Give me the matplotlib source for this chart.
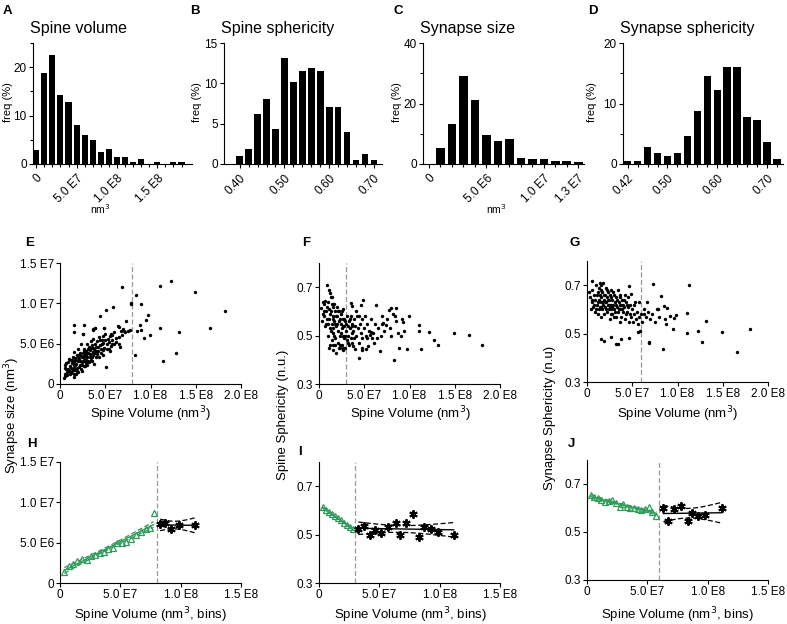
import numpy as np
import matplotlib
matplotlib.use('Agg')
import matplotlib.pyplot as plt

plt.rcParams['font.family'] = ['Liberation Sans', 'DejaVu Sans']
plt.rcParams['font.size'] = 8.5

W, H = 787, 624
fig = plt.figure(figsize=(W / 100, H / 100), dpi=100)

GREEN = '#2f9a5a'
TICK_FS = 8.5
LAB_FS = 9.5

# ---------------- data: histograms ----------------
hist_a = [2.8, 18.7, 22.6, 14.3, 12.9, 8.1, 5.9, 5.0, 2.4, 3.2, 1.4, 1.4, 0.5, 1.0, 0, 0.5, 0, 0.5, 0.5]
hist_b = [1.0, 1.8, 6.2, 8.0, 4.4, 13.2, 10.2, 11.5, 11.9, 11.5, 7.1, 7.1, 4.0, 0.5, 1.3, 0.5]
hist_c = [0, 5.2, 13.3, 29.2, 21.0, 9.6, 7.5, 8.3, 1.9, 1.5, 1.5, 1.0, 1.0, 0.5]
hist_d = [0.5, 0.5, 2.8, 1.8, 1.4, 1.8, 4.6, 8.7, 14.6, 12.3, 16.0, 16.0, 7.8, 7.3, 3.7, 0.9]

titles = ['Spine volume', 'Spine sphericity', 'Synapse size', 'Synapse sphericity']
a_xt, a_xl = [0, 5e7, 1e8, 1.5e8], ['0', '5.0 E7', '1.0 E8', '1.5 E8']
b_xt, b_xl = [0.40, 0.50, 0.60, 0.70], ['0.40', '0.50', '0.60', '0.70']
c_xt, c_xl = [0, 5e6, 1e7, 1.3e7], ['0', '5.0 E6', '1.0 E7', '1.3 E7']
d_xt, d_xl = [0.42, 0.50, 0.60, 0.70], ['0.42', '0.50', '0.60', '0.70']

# ---------------- data: scatter (x in 1e7 nm3) ----------------
e_pts = [(0.4,0.8),(0.5,1.3),(0.6,2.4),(0.7,1.9),(0.8,1.1),(0.9,2.7),(1.0,1.6),(1.1,2.2),(1.2,3.0),(1.2,1.4),
 (1.3,2.6),(1.4,1.9),(1.4,3.4),(1.5,2.3),(1.5,1.2),(1.6,2.9),(1.6,4.0),(1.7,1.7),(1.7,3.2),(1.8,2.5),(1.5,7.3),
 (1.9,3.6),(1.9,2.0),(2.0,2.8),(2.0,4.4),(2.0,1.5),(2.1,3.1),(2.2,2.4),(2.2,3.8),(2.3,1.9),(2.3,4.9),(2.4,3.3),
 (2.4,2.7),(2.5,6.2),(2.5,3.9),(2.6,2.2),(2.6,3.5),(2.7,4.4),(2.7,7.3),(2.8,2.9),(2.8,3.7),(2.9,4.1),(2.9,2.6),
 (3.0,3.4),(3.0,5.0),(3.1,3.9),(3.1,2.9),(3.2,4.6),(3.3,3.3),(3.3,4.2),(3.4,5.3),(3.4,3.0),(3.5,4.8),(3.6,6.8),
 (3.6,4.0),(3.7,3.6),(3.7,5.6),(3.8,4.4),(3.8,2.5),(3.9,7.0),(3.9,5.0),(4.0,4.6),(4.0,3.4),(4.1,5.3),(4.2,4.1),
 (4.3,5.8),(4.4,8.4),(4.4,4.8),(4.5,3.9),(4.6,5.5),(4.7,5.1),(4.8,4.2),(4.8,6.0),(4.9,6.9),(5.0,5.4),(5.1,2.1),
 (5.1,9.2),(5.2,5.0),(5.3,5.6),(5.4,4.4),(5.5,5.9),(5.6,6.2),(5.7,4.9),(5.8,5.4),(5.9,9.5),(6.0,6.4),(6.0,5.0),
 (6.2,5.7),(6.4,7.2),(6.5,4.9),(6.6,4.6),(6.7,6.6),(6.9,12.0),(7.0,6.8),(7.2,6.4),(7.3,7.8),(7.5,6.6),(7.7,6.7),
 (7.8,9.9),(7.9,10.1),(8.3,3.6),(8.4,11.0),(8.5,6.6),(8.8,7.3),(8.9,9.9),(9.0,6.7),(9.3,5.7),(9.5,7.9),(9.7,8.5),
 (9.9,6.1),(11.0,6.9),(11.1,12.2),(11.4,2.9),(12.3,12.8),(12.8,3.9),(13.2,6.4),(14.9,11.4),(16.6,6.9),(18.2,9.0),
 (0.5,2.0),(0.7,2.6),(0.9,1.8),(1.0,3.1),(1.1,1.2),(1.3,1.6),(1.3,3.0),(1.5,2.6),(1.6,2.0),(1.7,2.4),(1.8,3.0),
 (1.9,1.6),(2.0,3.3),(2.1,2.1),(2.2,2.9),(2.3,3.5),(2.4,2.3),(2.5,2.9),(2.6,4.1),(2.7,3.2),(2.8,2.2),(2.9,3.0),
 (3.0,3.9),(3.1,4.4),(3.2,2.7),(3.3,3.7),(3.5,3.3),(3.6,4.5),(3.7,4.0),(3.9,3.8),(4.0,4.1),(4.1,3.7),(4.2,4.6),
 (4.3,3.4),(4.5,4.4),(4.6,4.9),(4.7,3.6),(4.9,4.5),(5.0,6.2),(5.2,4.3),(5.4,5.2),(5.6,4.7),(5.8,6.1),(6.2,5.2),
 (6.5,5.8),(1.5,0.9),(1.8,1.3),(2.4,1.6),(3.0,2.3),(3.5,2.8),(1.2,2.0),(0.8,1.5),(0.6,1.0),(2.1,3.6),(2.9,3.6),
 (3.4,4.5),(4.4,5.4),(5.5,4.1),(6.8,6.1),(7.1,6.6),(1.5,6.4),(2.5,6.2),(3.6,6.7),(3.9,7.0),(4.9,6.9),(6.5,7.1)]

f_pts = [(0.9,0.71),(1.1,0.69),(1.2,0.678),(0.2,0.613),(0.4,0.64),(0.7,0.643),(1.4,0.661),(4.9,0.648),(6.3,0.626),
 (3.5,0.634),(3.65,0.623),(4.6,0.626),(8.0,0.613),(8.5,0.612),(7.7,0.606),(9.9,0.583),(8.4,0.583),(8.5,0.561),
 (9.3,0.555),(11.1,0.544),(7.0,0.582),(7.1,0.552),(7.4,0.544),(9.4,0.517),(9.1,0.50),(11.0,0.517),(12.2,0.514),
 (12.7,0.481),(13.1,0.461),(14.9,0.512),(16.6,0.503),(18.0,0.461),(8.8,0.45),(9.7,0.445),(11.3,0.443),(8.3,0.399),
 (6.7,0.437),(4.4,0.406),(5.7,0.514),(5.6,0.503),(5.9,0.492),(5.45,0.455),(5.2,0.445),(4.7,0.44),(3.8,0.459),(4.0,0.445),
 (0.5,0.60),(0.6,0.58),(0.8,0.55),(0.9,0.62),(1.0,0.50),(1.0,0.64),(1.1,0.57),(1.2,0.46),(1.2,0.53),(1.3,0.60),
 (1.3,0.66),(1.4,0.55),(1.4,0.48),(1.5,0.58),(1.5,0.62),(1.6,0.51),(1.6,0.44),(1.7,0.56),(1.7,0.63),(1.8,0.60),
 (1.8,0.49),(1.9,0.54),(1.9,0.43),(2.0,0.58),(2.0,0.62),(2.1,0.52),(2.1,0.47),(2.2,0.56),(2.2,0.60),(2.3,0.50),
 (2.3,0.45),(2.4,0.55),(2.4,0.59),(2.5,0.53),(2.5,0.46),(2.6,0.57),(2.6,0.50),(2.7,0.61),(2.7,0.44),(2.8,0.54),
 (2.8,0.49),(2.9,0.56),(2.9,0.45),(3.0,0.52),(3.1,0.58),(3.1,0.48),(3.2,0.54),(3.2,0.50),(3.3,0.56),(3.3,0.46),
 (3.4,0.53),(3.5,0.58),(3.5,0.49),(3.6,0.51),(3.7,0.55),(3.7,0.47),(3.8,0.52),(3.9,0.57),(3.9,0.49),(4.0,0.54),
 (4.1,0.50),(4.2,0.58),(4.3,0.53),(4.4,0.47),(4.5,0.55),(4.6,0.51),(4.7,0.57),(4.8,0.49),(5.0,0.53),(5.1,0.58),
 (5.2,0.50),(5.3,0.55),(5.5,0.52),(5.8,0.57),(6.0,0.51),(6.2,0.55),(6.4,0.49),(6.5,0.53),(6.8,0.50),(7.0,0.55),
 (7.2,0.52),(7.5,0.57),(7.8,0.53),(8.0,0.50),(8.2,0.59),(8.7,0.51),(9.2,0.57),(0.3,0.56),(0.4,0.59),(0.6,0.63),
 (0.7,0.54),(0.8,0.60),(0.9,0.57),(1.1,0.61),(1.2,0.59),(1.3,0.52),(1.5,0.53),(1.6,0.57),(1.7,0.50),(1.8,0.55),
 (1.9,0.58),(2.0,0.55),(2.1,0.60),(2.2,0.45),(2.3,0.57),(2.4,0.51),(2.6,0.54),(2.8,0.57),(3.0,0.55),(3.2,0.47),
 (3.4,0.57),(3.6,0.54),(1.4,0.63),(1.0,0.55),(2.5,0.60),(2.9,0.50),(1.1,0.45),(1.5,0.46),(1.8,0.46),(2.3,0.46),
 (2.6,0.45),(4.1,0.60),(4.4,0.58),(5.3,0.49),(6.1,0.47),(4.8,0.45)]

g_pts = [(0.5,0.716),(7.3,0.703),(11.3,0.70),(4.6,0.697),(4.9,0.664),(8.2,0.655),(8.5,0.615),(8.8,0.607),(7.7,0.603),
 (6.6,0.629),(9.2,0.574),(9.8,0.577),(9.6,0.566),(11.1,0.585),(13.1,0.553),(8.6,0.56),(8.7,0.541),(9.5,0.52),
 (11.0,0.503),(12.3,0.512),(12.7,0.467),(14.9,0.507),(18.0,0.519),(16.6,0.423),(8.4,0.436),(6.8,0.462),(6.9,0.464),
 (5.6,0.505),(4.6,0.48),(3.76,0.478),(3.4,0.457),(3.2,0.457),(2.7,0.485),(1.55,0.477),(1.9,0.47),
 (0.2,0.67),(0.3,0.65),(0.5,0.63),(0.6,0.68),(0.7,0.61),(0.8,0.66),(0.9,0.64),(1.0,0.70),(1.0,0.60),(1.1,0.62),
 (1.2,0.67),(1.2,0.58),(1.3,0.64),(1.3,0.69),(1.4,0.61),(1.4,0.66),(1.5,0.63),(1.5,0.57),(1.6,0.70),(1.6,0.65),
 (1.7,0.60),(1.7,0.67),(1.8,0.62),(1.8,0.71),(1.9,0.64),(1.9,0.58),(2.0,0.66),(2.0,0.61),(2.1,0.63),(2.1,0.69),
 (2.2,0.59),(2.2,0.65),(2.3,0.62),(2.3,0.67),(2.4,0.60),(2.4,0.64),(2.5,0.56),(2.5,0.66),(2.6,0.62),(2.6,0.68),
 (2.7,0.60),(2.8,0.64),(2.8,0.58),(2.9,0.62),(3.0,0.66),(3.0,0.60),(3.1,0.63),(3.2,0.57),(3.2,0.65),(3.3,0.61),
 (3.4,0.68),(3.4,0.59),(3.5,0.63),(3.6,0.55),(3.6,0.66),(3.7,0.60),(3.8,0.62),(3.8,0.57),(3.9,0.64),(4.0,0.59),
 (4.1,0.61),(4.2,0.56),(4.3,0.63),(4.4,0.59),(4.5,0.61),(4.6,0.55),(4.7,0.58),(4.8,0.62),(4.9,0.57),(5.0,0.60),
 (5.1,0.55),(5.2,0.58),(5.3,0.63),(5.4,0.56),(5.5,0.59),(5.6,0.54),(5.8,0.57),(6.0,0.58),(6.1,0.55),(6.3,0.60),
 (6.5,0.57),(6.7,0.59),(7.0,0.56),(7.2,0.58),(7.5,0.55),(7.8,0.60),(8.0,0.57),(0.4,0.60),(0.6,0.64),(0.9,0.59),
 (1.1,0.66),(1.3,0.60),(1.5,0.68),(1.7,0.63),(1.9,0.66),(2.1,0.60),(2.3,0.64),(2.5,0.61),(2.7,0.65),(2.9,0.67),
 (3.1,0.59),(3.3,0.64),(3.5,0.60),(3.7,0.65),(3.9,0.60),(4.1,0.64),(4.3,0.58),(4.5,0.65),(0.8,0.62),(1.2,0.63),
 (1.6,0.61),(2.0,0.63),(2.4,0.62),(2.8,0.61),(3.2,0.62),(3.6,0.62),(4.0,0.62),(4.4,0.62),(1.4,0.71),(2.2,0.68),
 (2.6,0.58),(3.0,0.57),(5.7,0.63),(5.2,0.62),(4.2,0.66),(5.9,0.51),(6.3,0.58)]

# ---------------- data: binned (x in 1e7 nm3) ----------------
h_gx = [0.35,0.75,1.1,1.45,1.8,2.2,2.55,2.9,3.3,3.65,4.0,4.4,4.75,5.1,5.5,5.9,6.3,6.7,7.1,7.45,7.75]
h_gy = [1.4,2.1,2.3,2.7,3.0,2.9,3.4,3.5,3.7,3.9,4.2,4.3,4.9,5.0,5.1,5.4,6.0,6.3,6.7,6.8,8.7]   # 1e6
h_bx = [8.3, 8.7, 9.2, 9.9, 11.2]
h_by = [7.27, 7.48, 6.7, 7.23, 7.23]

i_gx = [0.3,0.55,0.8,1.05,1.3,1.55,1.8,2.05,2.3,2.55,2.8]
i_gy = [0.612,0.600,0.592,0.585,0.575,0.568,0.560,0.550,0.540,0.530,0.522]
i_bx = [3.26,3.7,4.22,4.67,5.14,5.72,6.38,6.74,7.24,7.82,8.31,8.7,9.25,9.86,11.16]
i_by = [0.525,0.534,0.50,0.518,0.507,0.532,0.546,0.50,0.548,0.584,0.49,0.532,0.523,0.51,0.50]

j_gx = [0.3,0.6,0.9,1.2,1.5,1.8,2.1,2.4,2.7,3.0,3.3,3.6,3.9,4.2,4.5,4.8,5.1,5.4,5.75]
j_gy = [0.655,0.645,0.640,0.633,0.625,0.628,0.635,0.620,0.605,0.615,0.605,0.598,0.602,0.596,0.593,0.595,0.603,0.585,0.566]
j_bx = [6.33,6.71,7.24,7.8,8.67,8.34,9.23,9.8,11.16]
j_by = [0.60,0.544,0.594,0.608,0.58,0.544,0.567,0.57,0.598]

thresholds = [8e7, 3e7, 6e7]

vol_xt = [0, 5e7, 1e8, 1.5e8, 2e8]
vol_xl = ['0', '5.0 E7', '1.0 E8', '1.5 E8', '2.0 E8']
syn_yt = [0, 5e6, 1e7, 1.5e7]
syn_yl = ['0', '5.0 E6', '1.0 E7', '1.5 E7']
sph_yt = [0.3, 0.5, 0.7]
sph_yl = ['0.3', '0.5', '0.7']

T95 = {3: 3.182, 4: 2.776, 5: 2.571, 6: 2.447, 7: 2.365, 8: 2.306, 9: 2.262, 10: 2.228,
       11: 2.201, 12: 2.179, 13: 2.160, 14: 2.145, 15: 2.131, 16: 2.120, 17: 2.110, 18: 2.101, 19: 2.093}


def ax_px(x0, x1, y0, y1):
    return fig.add_axes([x0 / W, 1 - y1 / H, (x1 - x0) / W, (y1 - y0) / H])


def style(ax):
    for s in ['top', 'right']:
        ax.spines[s].set_visible(False)
    for s in ['left', 'bottom']:
        ax.spines[s].set_linewidth(0.8)
    ax.tick_params(direction='out', length=3, width=0.8, labelsize=TICK_FS, pad=1.5)


def hist_panel(box, vals, start, step, xlim, ylim, yt, yl, ymin, xt, xl, title):
    ax = ax_px(*box)
    style(ax)
    centers = start + step * np.arange(len(vals))
    ax.bar(centers, vals, width=step * 0.75, color='black', linewidth=0)
    ax.set_xlim(*xlim)
    ax.set_ylim(*ylim)
    ax.set_yticks(yt)
    ax.set_yticklabels(yl)
    ax.set_yticks(ymin, minor=True)
    ax.set_xticks(centers, minor=True)
    ax.set_xticks(xt)
    ax.set_xticklabels(xl, rotation=45, ha='right', va='top', rotation_mode='anchor')
    ax.tick_params(which='minor', direction='out', length=2.5, width=0.8)
    ax.tick_params(axis='x', pad=3)
    ax.text(-0.02, 1.06, title, transform=ax.transAxes, fontsize=11.5, ha='left', va='bottom')
    return ax


hist_panel((33, 192, 43, 164), hist_a, 0, 1e7, (-0.4e7, 19.3e7), (0, 25), [0, 10, 20], ['0', '10', '20'],
           [5, 15, 25], a_xt, a_xl, titles[0])
hist_panel((224, 382, 43, 164), hist_b, 0.40, 0.02, (0.365, 0.718), (0, 15), [0, 5, 10, 15],
           ['0', '5', '10', '15'], [], b_xt, b_xl, titles[1])
hist_panel((423, 584, 43, 164), hist_c, 0, 1e6, (-0.52e6, 13.5e6), (0, 40), [0, 20, 40], ['0', '20', '40'],
           [10, 30], c_xt, c_xl, titles[2])
hist_panel((623, 783, 43, 164), hist_d, 0.42, 0.02, (0.4107, 0.732), (0, 20), [0, 10, 20], ['0', '10', '20'],
           [5, 15], d_xt, d_xl, titles[3])

for x in [8, 197, 397, 592]:
    fig.text(x / W, 1 - 102 / H, 'freq (%)', rotation=90, ha='center', va='center', fontsize=8)
for x in [100, 496]:
    fig.text(x / W, 1 - 209 / H, 'nm$^3$', ha='center', va='center', fontsize=7.5)


def scatter_panel(box, pts, xscale, yscale, ylim, yt, yl, thr):
    ax = ax_px(*box)
    style(ax)
    p = np.array(pts)
    ax.scatter(p[:, 0] * xscale, p[:, 1] * yscale, s=6, c='black', linewidths=0, zorder=3)
    ax.set_xlim(0, 2e8)
    ax.set_ylim(*ylim)
    ax.set_xticks(vol_xt)
    ax.set_xticklabels(vol_xl)
    ax.set_yticks(yt)
    ax.set_yticklabels(yl)
    ax.axvline(thr, color='#9a9a9a', lw=0.9, ls=(0, (4, 2)), zorder=1)
    return ax


scatter_panel((60, 241, 263, 384), e_pts, 1e7, 1e6, (0, 1.5e7), syn_yt, syn_yl, thresholds[0])
scatter_panel((319, 500, 263, 384), f_pts, 1e7, 1, (0.3, 0.8), sph_yt, sph_yl, thresholds[1])
scatter_panel((587, 768, 261, 382), g_pts, 1e7, 1, (0.3, 0.8), sph_yt, sph_yl, thresholds[2])

for x in [150, 410, 677]:
    fig.text(x / W, 1 - 414 / H, 'Spine Volume (nm$^3$)', ha='center', va='center', fontsize=LAB_FS)
for x in [150, 410, 677]:
    fig.text(x / W, 1 - 615 / H, 'Spine Volume (nm$^3$, bins)', ha='center', va='center', fontsize=LAB_FS)

fig.text(12 / W, 1 - 415 / H, 'Synapse size (nm$^3$)', rotation=90, ha='center', va='center', fontsize=LAB_FS)
fig.text(283 / W, 1 - 415 / H, 'Spine Sphericity (n.u.)', rotation=90, ha='center', va='center', fontsize=LAB_FS)
fig.text(550 / W, 1 - 418 / H, 'Synapse Sphericity (n.u)', rotation=90, ha='center', va='center', fontsize=LAB_FS)


def fit_band(ax, x, y, color):
    x = np.asarray(x, float)
    y = np.asarray(y, float)
    b, a = np.polyfit(x, y, 1)
    n = len(x)
    res = y - (a + b * x)
    s = np.sqrt(np.sum(res ** 2) / (n - 2))
    xm = x.mean()
    sxx = np.sum((x - xm) ** 2)
    xs = np.linspace(x.min(), x.max(), 60)
    yf = a + b * xs
    se = s * np.sqrt(1 / n + (xs - xm) ** 2 / sxx)
    t = T95.get(n - 2, 2.09)
    ax.plot(xs, yf, color=color, lw=1.0, zorder=2)
    ax.plot(xs, yf + t * se, color=color, lw=0.9, ls=(0, (4, 2)), zorder=2)
    ax.plot(xs, yf - t * se, color=color, lw=0.9, ls=(0, (4, 2)), zorder=2)


def bin_panel(box, gx, gy, bx, by, yscale, ylim, yt, yl, thr):
    ax = ax_px(*box)
    style(ax)
    gx = np.array(gx) * 1e7
    gy = np.array(gy) * yscale
    bx = np.array(bx) * 1e7
    by = np.array(by) * yscale
    fit_band(ax, gx, gy, GREEN)
    fit_band(ax, bx, by, 'black')
    ax.plot(gx, gy, ls='none', marker='^', ms=5, mfc='none', mec=GREEN, mew=0.9, zorder=3)
    ax.plot(bx, by, ls='none', marker=(6, 2, 0), ms=6, mec='black', mew=1.4, zorder=3)
    ax.plot(bx, by, ls='none', marker='o', ms=2.5, mfc='black', mec='black', zorder=3)
    ax.set_xlim(0, 1.5e8)
    ax.set_ylim(*ylim)
    ax.set_xticks(vol_xt[:4])
    ax.set_xticklabels(vol_xl[:4])
    ax.set_yticks(yt)
    ax.set_yticklabels(yl)
    ax.axvline(thr, color='#9a9a9a', lw=0.9, ls=(0, (4, 2)), zorder=1)
    return ax


bin_panel((60, 241, 462, 583), h_gx, h_gy, h_bx, h_by, 1e6, (0, 1.5e7), syn_yt, syn_yl, thresholds[0])
bin_panel((319, 500, 462, 583), i_gx, i_gy, i_bx, i_by, 1, (0.3, 0.8), sph_yt, sph_yl, thresholds[1])
bin_panel((587, 768, 460, 580), j_gx, j_gy, j_bx, j_by, 1, (0.3, 0.8), sph_yt, sph_yl, thresholds[2])

letters = [('A', 3, 11), ('B', 190, 11), ('C', 393, 11), ('D', 588, 11),
           ('E', 25, 243), ('F', 302, 243), ('G', 570, 243),
           ('H', 27, 444), ('I', 298, 452), ('J', 568, 444)]
for t, x, y in letters:
    fig.text(x / W, 1 - y / H, t, fontsize=9.5, fontweight='bold', ha='left', va='center')

fig.savefig('out.png', dpi=100)
